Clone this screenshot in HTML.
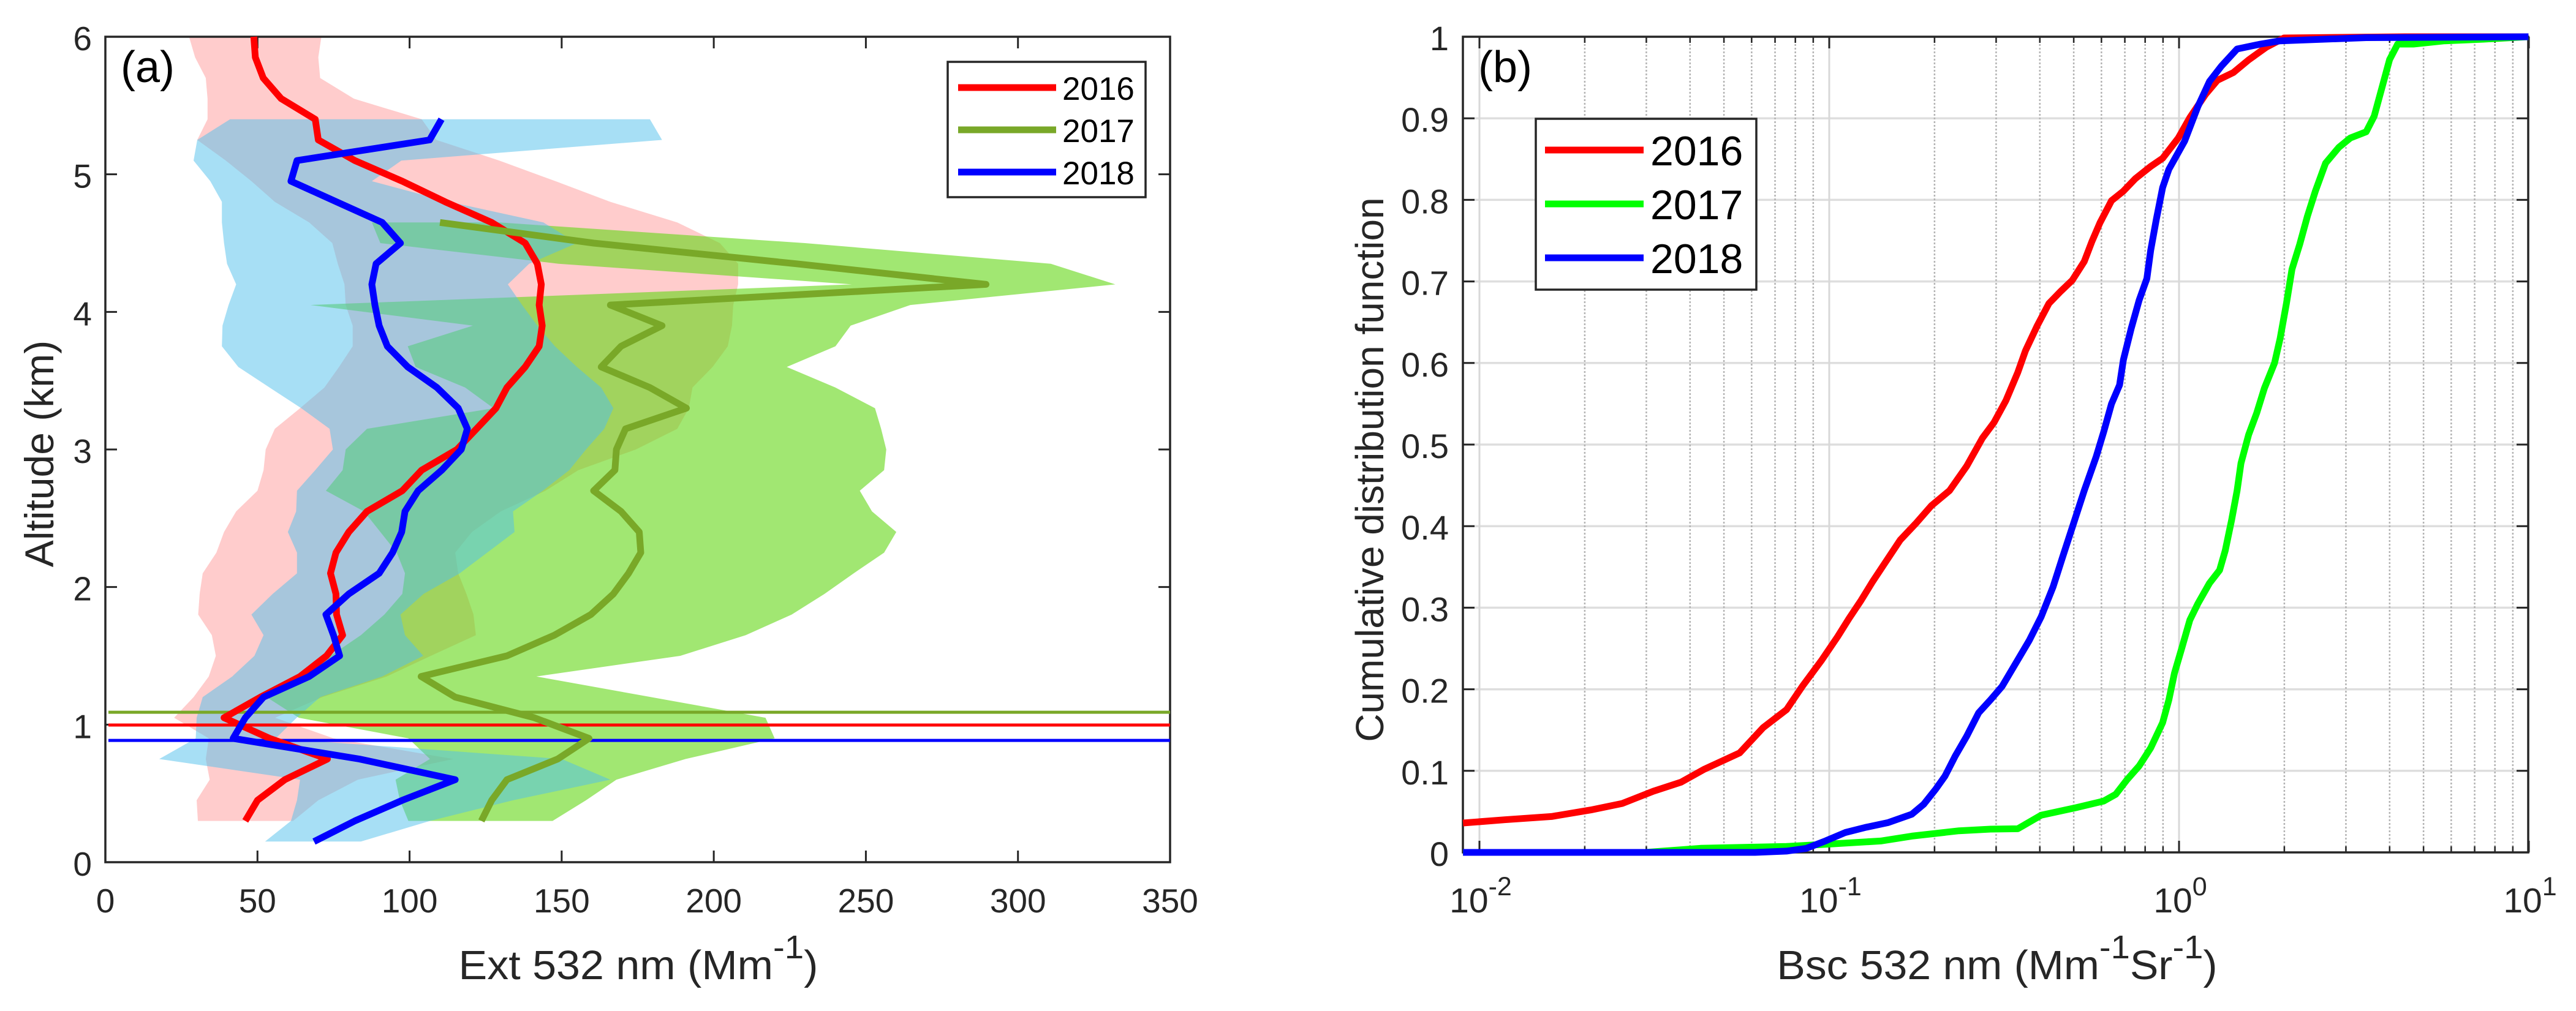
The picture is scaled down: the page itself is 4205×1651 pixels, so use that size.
<!DOCTYPE html>
<html lang="en">
<head>
<meta charset="utf-8">
<title>Ext and Bsc 532 nm profiles</title>
<style>
html,body{margin:0;padding:0;background:#fff;}
svg{display:block;font-family:"Liberation Sans",Arial,sans-serif;}
</style>
</head>
<body>
<svg id="fig" xmlns="http://www.w3.org/2000/svg" width="4205" height="1651" viewBox="0 0 4205 1651">
  <rect x="0" y="0" width="4205" height="1651" fill="#ffffff"/>
  <g id="panelA"></g>
  <g id="panelB"></g>

  <text x="197" y="134" font-size="72" fill="#000">(a)</text>
  <text transform="translate(87,741) rotate(-90)" text-anchor="middle" font-size="66" fill="#262626">Altitude (km)</text>
  <text transform="translate(1042,1599) scale(1.045,1)" text-anchor="middle" font-size="67" fill="#262626">Ext 532 nm (Mm<tspan font-size="54" dy="-34">-1</tspan><tspan dy="34">)</tspan></text>

  <g>
    <rect x="1547" y="101" width="323" height="221" fill="#fff" stroke="#262626" stroke-width="3.5"/>
    <line x1="1564" x2="1724" y1="143" y2="143" stroke="#ff0000" stroke-width="11"/>
    <text x="1734" y="163" font-size="53" fill="#000">2016</text>
    <line x1="1564" x2="1724" y1="212" y2="212" stroke="#79a828" stroke-width="11"/>
    <text x="1734" y="232" font-size="53" fill="#000">2017</text>
    <line x1="1564" x2="1724" y1="281" y2="281" stroke="#0000ff" stroke-width="11"/>
    <text x="1734" y="301" font-size="53" fill="#000">2018</text>
  </g>

  <text x="2413" y="134" font-size="72" fill="#000">(b)</text>
  <text transform="translate(2258,767) rotate(-90)" text-anchor="middle" font-size="64" fill="#262626">Cumulative distribution function</text>
  <text transform="translate(3260,1599) scale(1.04,1)" text-anchor="middle" font-size="67" fill="#262626">Bsc 532 nm (Mm<tspan font-size="54" dy="-34">-1</tspan><tspan dy="34">Sr</tspan><tspan font-size="54" dy="-34">-1</tspan><tspan dy="34">)</tspan></text>

  <g id="legendB"></g>
</svg>

<script>
// ---------- Panel (a) data: altitude (km), extinction mean and shaded bounds (Mm-1)
var alt2016 = [6,5.85,5.7,5.55,5.4,5.25,5.1,4.95,4.8,4.65,4.5,4.35,4.2,4.05,3.9,3.75,3.6,3.45,3.3,3.15,3,2.85,2.7,2.55,2.4,2.25,2.1,1.95,1.8,1.65,1.5,1.35,1.2,1.05,0.9,0.75,0.6,0.45,0.3];
var ext2016 = [48.8,49.3,51.9,57.8,69,70,82,97.6,111.7,127,138,142,143.3,142.6,143.6,142.6,138,132,128.4,122,115.6,104,97.6,86,80,75.8,74,75.8,76,78,72.7,64,51,39,54,73,59,50,46];
var low2016 = [27.5,29.5,33,33.6,33.6,30.2,39.6,48,55.7,67,74.6,76.4,78.6,79,81.3,81.3,76.8,72,64,55.7,52.7,52,50,43,39,36.5,32,31,30.5,35,36.3,34,29,22.6,34,33,34.3,30,30.4];
var high2016 = [71,70,70.6,81.7,104,108.8,129.5,148,166,188,202,208,208,206.4,206,204.6,199.6,193,191.8,188,174.4,155.5,144.7,130,120.5,115,116,118.7,121,121.8,107,92.5,71.3,55.8,75,114.4,83,70,61.7];

var alt2017 = [4.65,4.5,4.35,4.2,4.05,3.9,3.75,3.6,3.45,3.3,3.15,3,2.85,2.7,2.55,2.4,2.25,2.1,1.95,1.8,1.65,1.5,1.35,1.2,1.05,0.9,0.75,0.6,0.45,0.3];
var ext2017 = [110,160.5,227,289.5,166,183,169.5,163,179,191,171,168,167.5,160.5,169.5,175.5,176,172,167,159.6,147.6,132,103.8,115,141,159,148.7,132,127,123.6];
var low2017 = [87.6,90.4,149,245.4,67.4,120.8,99.4,102,118.3,127.6,86,79,78,72.5,85,90.4,95.8,98.5,97.6,91.7,84,74,66,53,63.6,99.6,106.7,95.4,96.8,99.6];
var high2017 = [129.5,230,310.8,332,264.6,245,240,224,240,253,255,256.7,256,248,252,260,256,246,236.4,225.6,210.5,189,141.7,179.4,217,220,190.7,168,158,147];

var alt2018 = [5.4,5.25,5.1,4.95,4.8,4.65,4.5,4.35,4.2,4.05,3.9,3.75,3.6,3.45,3.3,3.15,3,2.85,2.7,2.55,2.4,2.25,2.1,1.95,1.8,1.65,1.5,1.35,1.2,1.05,0.9,0.75,0.6,0.45,0.3,0.15];
var ext2018 = [110.5,106.6,63,61,76,91,97,89,87.6,88.6,90,92.7,99.4,109,116,119,117,110.6,102.8,98.5,97.4,94.4,90,80,72.5,75,77,67,52,46,42,83.5,115,97.6,82,68.6];
var low2018 = [41,30.2,29,34.5,38.3,38.3,39,40,43,40.5,38.5,38.3,43.7,54,64.4,73.7,74.8,69,63,62.7,60,63,63,55,48,52,49,41.7,32,30,29.7,17.7,64,63,61,52.5];
var high2018 = [179,183,97.3,87.6,113,144,155,139.3,132.3,137,142,147.8,155,163,167,164,158,152.5,143.8,134,134.5,125.5,116.5,104.6,97,98.5,104.5,91,70.6,62.9,56,150,166,134,106.7,84];

var boundaryYears = ["2017","2016","2018"];
var boundaryAltitudes = [1.09,0.997,0.885];

var extTicks = [0,50,100,150,200,250,300,350];
var altTicks = [0,1,2,3,4,5,6];

// ---------- Panel (b) data: log10 of backscatter and cumulative fraction
var logBsc2016 = [-2.047,-1.928,-1.794,-1.682,-1.592,-1.503,-1.424,-1.357,-1.256,-1.189,-1.122,-1.077,-1.021,-0.976,-0.943,-0.909,-0.876,-0.842,-0.797,-0.753,-0.708,-0.656,-0.607,-0.562,-0.529,-0.495,-0.461,-0.439,-0.405,-0.372,-0.338,-0.305,-0.271,-0.249,-0.226,-0.193,-0.159,-0.125,-0.081,-0.047,-0.002,0.031,0.076,0.11,0.155,0.199,0.249,0.3,0.647,0.999];
var cdf2016 = [0.036,0.04,0.044,0.052,0.06,0.075,0.086,0.102,0.122,0.153,0.175,0.2035,0.236,0.2645,0.287,0.309,0.332,0.354,0.383,0.403,0.425,0.4436,0.4736,0.508,0.527,0.554,0.5885,0.615,0.646,0.673,0.688,0.7015,0.7245,0.749,0.772,0.799,0.8107,0.826,0.841,0.851,0.876,0.901,0.9295,0.9467,0.956,0.9716,0.987,0.9985,1,1];

var logBsc2017 = [-2.047,-1.525,-1.368,-1.122,-1.01,-0.853,-0.764,-0.629,-0.539,-0.461,-0.394,-0.293,-0.215,-0.181,-0.148,-0.114,-0.081,-0.047,-0.029,-0.013,0.009,0.031,0.054,0.087,0.116,0.132,0.15,0.166,0.177,0.199,0.222,0.244,0.273,0.289,0.307,0.323,0.345,0.367,0.39,0.419,0.457,0.49,0.535,0.558,0.58,0.602,0.625,0.67,0.759,0.871,0.999];
var cdf2017 = [0,0,0.005,0.0073,0.01,0.014,0.02,0.0265,0.0285,0.029,0.0456,0.055,0.063,0.0712,0.0895,0.106,0.128,0.159,0.187,0.22,0.252,0.285,0.305,0.33,0.346,0.37,0.407,0.4436,0.477,0.512,0.5387,0.569,0.6,0.63,0.673,0.715,0.7455,0.78,0.811,0.845,0.8644,0.876,0.8835,0.9027,0.9375,0.972,0.991,0.991,0.995,0.997,1];

var logBsc2018 = [-2.047,-1.212,-1.122,-1.066,-1.01,-0.954,-0.898,-0.831,-0.764,-0.73,-0.696,-0.669,-0.64,-0.607,-0.573,-0.539,-0.506,-0.461,-0.428,-0.394,-0.36,-0.333,-0.304,-0.271,-0.237,-0.215,-0.193,-0.17,-0.159,-0.137,-0.114,-0.092,-0.081,-0.065,-0.047,-0.029,0.016,0.054,0.087,0.121,0.166,0.233,0.289,0.535,0.999];
var cdf2018 = [0,0,0.0016,0.0049,0.0142,0.0244,0.0305,0.0366,0.0468,0.059,0.0773,0.0936,0.118,0.1425,0.171,0.187,0.2035,0.236,0.26,0.289,0.3256,0.362,0.4,0.4436,0.485,0.516,0.55,0.573,0.604,0.642,0.677,0.7035,0.738,0.776,0.815,0.8375,0.872,0.9145,0.9452,0.964,0.985,0.991,0.995,0.9989,1];

var cdfTicks = [0,0.1,0.2,0.3,0.4,0.5,0.6,0.7,0.8,0.9,1];
var decadeExponents = [-2,-1,0,1];
var minorMultipliers = [2,3,4,5,6,7,8,9];
var legendYears = ["2016","2017","2018"];

// ---------- Axis functions
var A = {l:172, r:1910, t:60, b:1408, xMax:350, yMax:6};
var B = {l:2388, r:4127, t:60, b:1392, decade:571, zero:3557};
function xA(v){ return A.l + v*(A.r-A.l)/A.xMax; }
function yA(a){ return A.b - a*(A.b-A.t)/A.yMax; }
function xB(lg){ return B.zero + lg*B.decade; }
function yB(c){ return B.b - c*(B.b-B.t); }

var NS = "http://www.w3.org/2000/svg";
var INK = "#262626";
function mk(tag, parent){
  var el = document.createElementNS(NS, tag);
  parent.appendChild(el);
  return el;
}
function seg(parent, x1, y1, x2, y2, color, w){
  var el = mk("line", parent);
  el.setAttribute("x1", x1);
  el.setAttribute("y1", y1);
  el.setAttribute("x2", x2);
  el.setAttribute("y2", y2);
  el.setAttribute("stroke", color);
  el.setAttribute("stroke-width", w);
  return el;
}
function pts(xs, ys){
  return xs.map(function(x,i){ return x.toFixed(1)+","+ys[i].toFixed(1); }).join(" ");
}

// ---------- Draw panel (a)
var gA = document.getElementById("panelA");

function band(alts, lo, hi, color, opacity, year){
  var xs = lo.map(xA).concat(hi.slice().reverse().map(xA));
  var ys = alts.map(yA).concat(alts.slice().reverse().map(yA));
  var p = mk("polygon", gA);
  p.setAttribute("points", pts(xs, ys));
  p.setAttribute("fill", color);
  p.setAttribute("fill-opacity", opacity);
  
  
}
band(alt2016, low2016, high2016, "rgb(255,0,0)", 0.2, "2016");
band(alt2017, low2017, high2017, "rgb(98,215,20)", 0.6, "2017");
band(alt2018, low2018, high2018, "rgb(79,191,235)", 0.5, "2018");

// axes frame and ticks, panel a
var frameA = mk("rect", gA);
frameA.setAttribute("x", A.l);
frameA.setAttribute("y", A.t);
frameA.setAttribute("width", A.r-A.l);
frameA.setAttribute("height", A.b-A.t);
frameA.setAttribute("fill", "none");
frameA.setAttribute("stroke", INK);
frameA.setAttribute("stroke-width", 3.5);



extTicks.forEach(function(v){
  var x = xA(v);
  var t1 = seg(gA, x, A.b, x, A.b-19, INK, 3);
  
  
  var t2 = seg(gA, x, A.t, x, A.t+19, INK, 3);
  
  
  var lb = mk("text", gA);
  lb.setAttribute("x", x);
  lb.setAttribute("y", 1490);
  lb.setAttribute("text-anchor", "middle");
  lb.setAttribute("font-size", 55);
  lb.setAttribute("fill", INK);
  
  
  lb.textContent = String(v);
});
altTicks.forEach(function(v){
  var y = yA(v);
  var t1 = seg(gA, A.l, y, A.l+19, y, INK, 3);
  
  
  var t2 = seg(gA, A.r, y, A.r-19, y, INK, 3);
  
  
  var lb = mk("text", gA);
  lb.setAttribute("x", 150);
  lb.setAttribute("y", y+22);
  lb.setAttribute("text-anchor", "end");
  lb.setAttribute("font-size", 55);
  lb.setAttribute("fill", INK);
  
  
  lb.textContent = String(v);
});

// horizontal boundary lines
var boundaryColors = {"2016":"#ff0000","2017":"#79a828","2018":"#0000ff"};
boundaryAltitudes.forEach(function(a,i){
  var l = seg(gA, xA(1), yA(a), A.r, yA(a), boundaryColors[boundaryYears[i]], 5);
  
  
});

function profile(alts, vals, color, year){
  var p = mk("polyline", gA);
  p.setAttribute("points", pts(vals.map(xA), alts.map(yA)));
  p.setAttribute("fill", "none");
  p.setAttribute("stroke", color);
  p.setAttribute("stroke-width", 11);
  p.setAttribute("stroke-linejoin", "round");
  
  
}
profile(alt2016, ext2016, "#ff0000", "2016");
profile(alt2017, ext2017, "#79a828", "2017");
profile(alt2018, ext2018, "#0000ff", "2018");

// ---------- Draw panel (b)
var gB = document.getElementById("panelB");

cdfTicks.forEach(function(c){
  var g = seg(gB, B.l, yB(c), B.r, yB(c), "#dedede", 3.5);
  
  
});
decadeExponents.forEach(function(e){
  var x = xB(e);
  if (e < 1) {
    var g = seg(gB, x, B.t, x, B.b, "#d8d8d8", 3);
    
    
    minorMultipliers.forEach(function(m){
      var xm = xB(e + Math.log10(m));
      var gm = seg(gB, xm, B.t, xm, B.b, "#b4b4b4", 2.5);
      gm.setAttribute("stroke-dasharray", "3 3");
      
      
      var tm1 = seg(gB, xm, B.b, xm, B.b-10, INK, 2.5);
      
      
      var tm2 = seg(gB, xm, B.t, xm, B.t+10, INK, 2.5);
      
      
    });
  }
  var t1 = seg(gB, x, B.b, x, B.b-19, INK, 3);
  
  
  var t2 = seg(gB, x, B.t, x, B.t+19, INK, 3);
  
  
  var lb = mk("text", gB);
  lb.setAttribute("x", x + 2);
  lb.setAttribute("y", 1490);
  lb.setAttribute("text-anchor", "middle");
  lb.setAttribute("font-size", 57);
  lb.setAttribute("fill", INK);
  
  
  var base = mk("tspan", lb);
  base.textContent = "10";
  var sup = mk("tspan", lb);
  sup.setAttribute("font-size", 43);
  sup.setAttribute("dy", -28);
  sup.textContent = String(e);
});

var frameB = mk("rect", gB);
frameB.setAttribute("x", B.l);
frameB.setAttribute("y", B.t);
frameB.setAttribute("width", B.r-B.l);
frameB.setAttribute("height", B.b-B.t);
frameB.setAttribute("fill", "none");
frameB.setAttribute("stroke", INK);
frameB.setAttribute("stroke-width", 3.5);



cdfTicks.forEach(function(c){
  var y = yB(c);
  var t1 = seg(gB, B.l, y, B.l+19, y, INK, 3);
  
  
  var t2 = seg(gB, B.r, y, B.r-19, y, INK, 3);
  
  
  var lb = mk("text", gB);
  lb.setAttribute("x", 2365);
  lb.setAttribute("y", y+22);
  lb.setAttribute("text-anchor", "end");
  lb.setAttribute("font-size", 56);
  lb.setAttribute("fill", INK);
  
  
  lb.textContent = String(c);
});

function cdfCurve(lgs, cs, color, year){
  var p = mk("polyline", gB);
  p.setAttribute("points", pts(lgs.map(xB), cs.map(yB)));
  p.setAttribute("fill", "none");
  p.setAttribute("stroke", color);
  p.setAttribute("stroke-width", 11);
  p.setAttribute("stroke-linejoin", "round");
  
  
}
cdfCurve(logBsc2016, cdf2016, "#ff0000", "2016");
cdfCurve(logBsc2017, cdf2017, "#00ff00", "2017");
cdfCurve(logBsc2018, cdf2018, "#0000ff", "2018");

// ---------- Legend (b), drawn last so it sits above the grid
var gL = document.getElementById("legendB");
document.getElementById("fig").appendChild(gL);
var boxB = mk("rect", gL);
boxB.setAttribute("x", 2507);
boxB.setAttribute("y", 194);
boxB.setAttribute("width", 360);
boxB.setAttribute("height", 279);
boxB.setAttribute("fill", "#ffffff");
boxB.setAttribute("stroke", INK);
boxB.setAttribute("stroke-width", 3.5);


var legendColors = ["#ff0000","#00ff00","#0000ff"];
legendYears.forEach(function(yr,i){
  var y = 245 + i*88;
  var l = seg(gL, 2522, y, 2683, y, legendColors[i], 11);
  
  
  var t = mk("text", gL);
  t.setAttribute("x", 2694);
  t.setAttribute("y", y+25);
  t.setAttribute("font-size", 68);
  t.setAttribute("fill", "#000");
  
  
  t.textContent = yr;
});
</script>
</body>
</html>
